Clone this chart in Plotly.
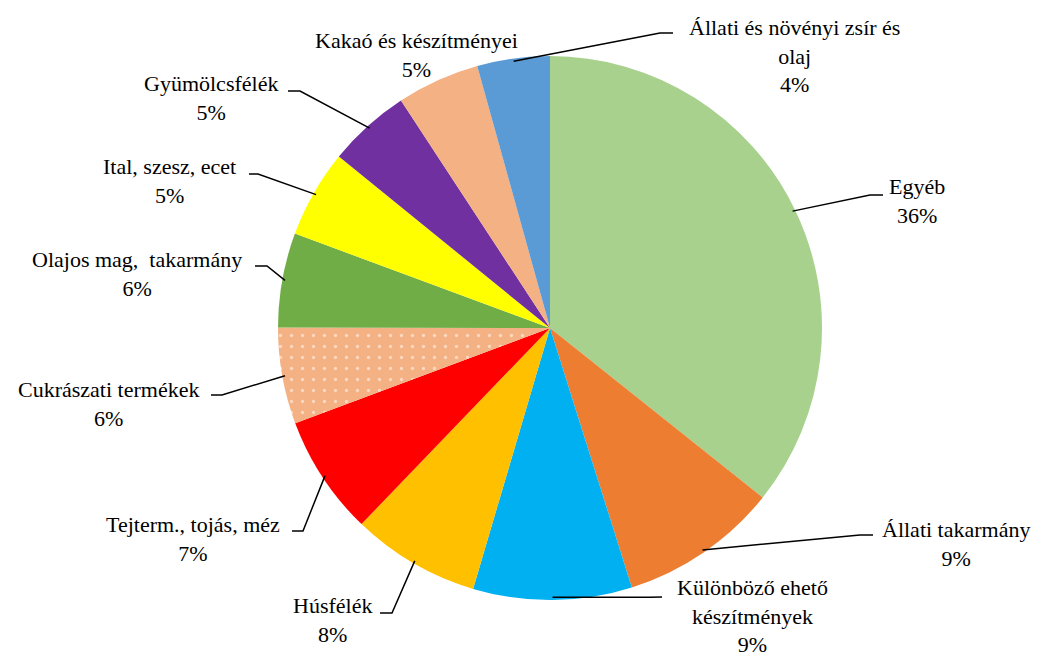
import math
import plotly.graph_objects as go

# adatok (a kördiagram szeletei, óramutató irányában, 12 órától)
kategoriak = [
    "Egyéb",
    "Állati takarmány",
    "Különböző ehető<br>készítmények",
    "Húsfélék",
    "Tejterm., tojás, méz",
    "Cukrászati termékek",
    "Olajos mag,  takarmány",
    "Ital, szesz, ecet",
    "Gyümölcsfélék",
    "Kakaó és készítményei",
    "Állati és növényi zsír és<br>olaj",
]
ertekek = [35.6, 9.4, 9.4, 7.6, 7.1, 5.7, 5.6, 5.2, 4.9, 4.9, 4.3]
szinek = ["#A9D18E", "#ED7D31", "#00B0F0", "#FFC000", "#FF0000", "#F4B183",
          "#70AD47", "#FFFF00", "#7030A0", "#F4B183", "#5B9BD5"]
mintak = ["", "", "", "", "", ".", "", "", "", "", ""]

# feliratok helye (pixel), és a vezetővonal könyöke / vége
W, H = 1038, 659
CX, CY, R = 550, 328, 272
felirat_hely = [(917, 201), (956, 544), (752, 616), (332, 620), (193, 539),
                (108, 404), (137, 274), (169, 181), (211, 98), (416, 55), (794, 56)]
vonalak = [((870, 195), (883, 195)), ((860, 535), (873, 535)), (None, (662, 597)),
           ((392, 613), (380, 613)), ((303, 531), (292, 531)), ((222, 395), (211, 395)),
           ((267, 266), (255, 266)), ((258, 174), (249, 174)), ((300, 91), (288, 91)),
           None, ((660, 33), (673, 33))]

BETU = "Liberation Serif"


def px(x, y):
    return x / W, 1 - y / H


fig = go.Figure()
fig.add_trace(go.Pie(
    labels=kategoriak,
    values=ertekek,
    sort=False,
    direction="clockwise",
    rotation=0,
    textinfo="none",
    hoverinfo="label+percent",
    marker=dict(colors=szinek, line=dict(width=0),
                pattern=dict(shape=mintak, fgcolor="white", size=11,
                             solidity=0.07, fillmode="overlay")),
    domain=dict(x=[(CX - R) / W, (CX + R) / W], y=[1 - (CY + R) / H, 1 - (CY - R) / H]),
))

osszeg = sum(ertekek)
kum = 0
for i, v in enumerate(ertekek):
    szog = math.radians((kum + v / 2) / osszeg * 360)
    kum += v
    szazalek = round(v / osszeg * 100)
    hx, hy = felirat_hely[i]
    x0, y0 = px(hx, hy)
    fig.add_annotation(x=x0, y=y0, xref="paper", yref="paper", showarrow=False,
                       text=f"{kategoriak[i]}<br>{szazalek}%", align="center",
                       xanchor="center", yanchor="middle",
                       font=dict(family=BETU, size=22, color="black"))
    if vonalak[i] is None:
        continue
    ax = CX + R * 0.99 * math.sin(szog)
    ay = CY - R * 0.99 * math.cos(szog)
    konyok, veg = vonalak[i]
    if konyok is None:
        konyok = (veg[0] - 12, ay)
    pontok = [px(ax, ay), px(*konyok), px(*veg)]
    ut = "M " + " L ".join(f"{a:.5f},{b:.5f}" for a, b in pontok)
    fig.add_shape(type="path", path=ut, xref="paper", yref="paper",
                  line=dict(color="black", width=1.5))

fig.update_layout(
    width=W, height=H,
    margin=dict(l=0, r=0, t=0, b=0),
    paper_bgcolor="white",
    plot_bgcolor="white",
    showlegend=False,
    font=dict(family=BETU),
)

fig.write_html("out.html", config={"displayModeBar": False},
               post_script="document.body.style.margin = '0';")
